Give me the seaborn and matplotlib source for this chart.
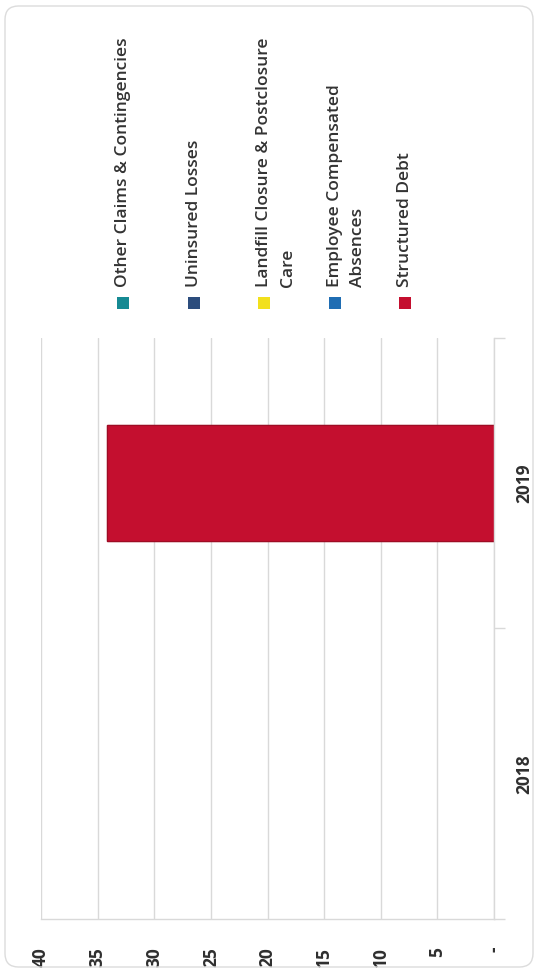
import matplotlib
matplotlib.use("Agg")
import matplotlib.pyplot as plt
import seaborn as sns
import pandas as pd
from matplotlib.patches import FancyBboxPatch, Rectangle

# ---------------- data ----------------
years = ["2018", "2019"]
year_order = ["2019", "2018"]          # top to bottom in the rotated picture
series_names = [
    "Other Claims & Contingencies",
    "Uninsured Losses",
    "Landfill Closure & Postclosure\nCare",
    "Employee Compensated\nAbsences",
    "Structured Debt",
]
other_claims = [0.0, 0.0]
uninsured_losses = [0.0, 0.0]
landfill_closure = [0.0, 0.0]
employee_absences = [0.0, 0.0]
structured_debt = [0.0, 34.2]
series_colors = ["#168a93", "#2c4d7d", "#f2e01c", "#1f6db3", "#c40f2f"]
value_ticks = [0, 5, 10, 15, 20, 25, 30, 35, 40]
value_tick_labels = ["-", "5", "10", "15", "20", "25", "30", "35", "40"]

# ---------------- style ----------------
sns.set_theme(style="white")
plt.rcParams["font.family"] = ["Open Sans", "DejaVu Sans"]

W, H = 541, 972
fig = plt.figure(figsize=(W / 100, H / 100), dpi=100)
fig.patch.set_facecolor("white")
ax = fig.add_axes([41 / W, (H - 919) / H, (494 - 41) / W, (919 - 338) / H])

# stacked bars (Structured Debt at the base) drawn as cumulative totals, top series first
series_values = [other_claims, uninsured_losses, landfill_closure, employee_absences, structured_debt]
stack_from_base = list(range(len(series_values)))[::-1]
cum = [0.0, 0.0]
cumulative = {}
for idx in stack_from_base:
    cum = [c + v for c, v in zip(cum, series_values[idx])]
    cumulative[idx] = list(cum)

for idx in range(len(series_values)):
    df = pd.DataFrame({"year": years, "value": cumulative[idx]})
    sns.barplot(data=df, x="value", y="year", order=year_order, orient="h",
                color=series_colors[idx], saturation=1, width=0.4,
                linewidth=0, ax=ax, errorbar=None)

for p in ax.patches:
    if abs(p.get_width()) > 0:
        p.set_edgecolor("#9e0c24")
        p.set_linewidth(0.8)
    else:
        p.set_visible(False)

ax.set_xlim(40, 0)
ax.set_ylim(1.5, -0.5)
ax.set_xlabel("")
ax.set_ylabel("")

grid_c = "#d9d9d9"
lab_c = "#2f2f2f"
ax.set_xticks(value_ticks)
ax.set_xticklabels(value_tick_labels, rotation=90, fontsize=12.5, fontweight="bold",
                   color=lab_c, va="top", ha="center")
ax.tick_params(axis="x", length=0, pad=20)
ax.xaxis.grid(True, color=grid_c, lw=1)
ax.yaxis.grid(False)
ax.set_axisbelow(True)

ax.yaxis.tick_right()
ax.set_yticks([0, 1])
ax.set_yticklabels(year_order, rotation=90, fontsize=12.5, fontweight="bold",
                   color=lab_c, va="center", ha="left")
ax.set_yticks([-0.5, 0.5, 1.5], minor=True)
ax.tick_params(axis="y", which="major", length=0, pad=15, right=True, left=False)
ax.tick_params(axis="y", which="minor", length=8, width=1, color=grid_c, right=True, left=False)

for s in ["top", "left"]:
    ax.spines[s].set_visible(False)
for s in ["right", "bottom"]:
    ax.spines[s].set_visible(True)
    ax.spines[s].set_color(grid_c)
    ax.spines[s].set_linewidth(1)

# ---------------- legend (rotated, drawn manually) ----------------
for i, (name, col) in enumerate(zip(series_names, series_colors)):
    cx = 123 + 70.5 * i
    fig.patches.append(Rectangle(((cx - 6) / W, (H - 303 - 6) / H), 12 / W, 12 / H,
                                 transform=fig.transFigure, facecolor=col,
                                 edgecolor="none"))
    for k, line in enumerate(name.split("\n")):
        fig.text((cx + 24 * k) / W, (H - 287) / H, line, rotation=90,
                 rotation_mode="anchor", ha="left", va="center",
                 fontsize=12.5, fontweight="semibold", color="#333333")

# chart-area border
fig.patches.append(FancyBboxPatch((5 / W, 5 / H), (533 - 5) / W, (966 - 5) / H,
                                  boxstyle="round,pad=0,rounding_size=0.025",
                                  mutation_aspect=W / H,
                                  transform=fig.transFigure, fill=False,
                                  edgecolor="#dcdcdc", linewidth=1))

fig.savefig("out.png", dpi=100, facecolor="white")
